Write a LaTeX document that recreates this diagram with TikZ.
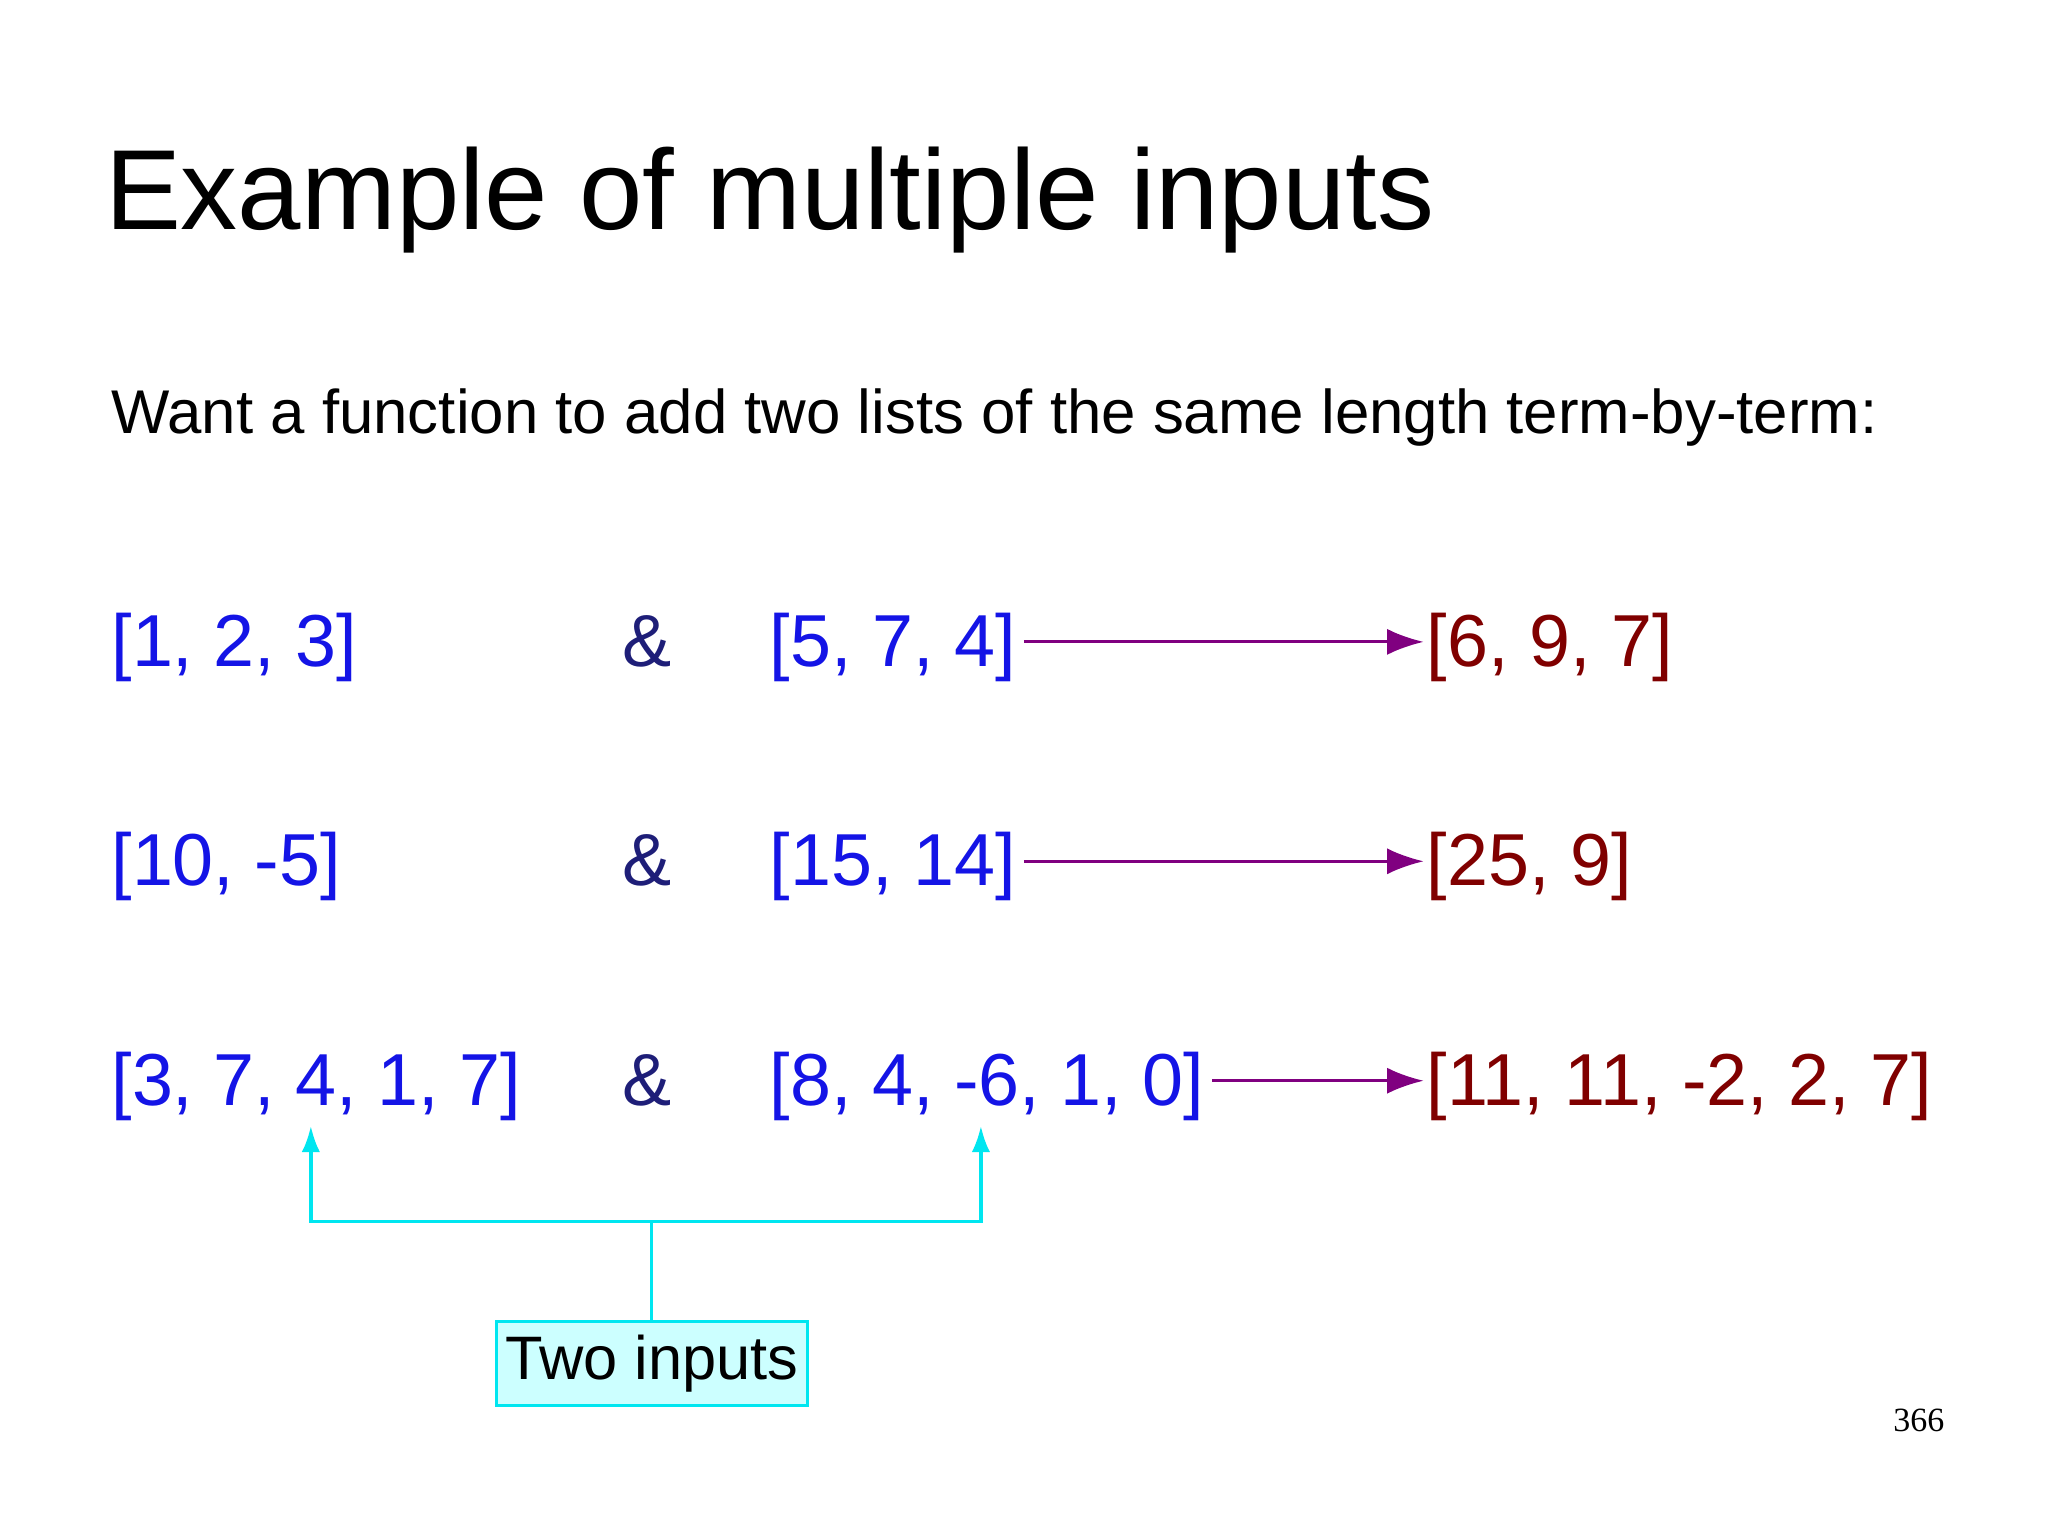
\documentclass[tikz,border=0pt]{standalone}
\usepackage{fontspec}
\setmainfont{Liberation Sans}
\newfontfamily\seriffont{Liberation Serif}
\usetikzlibrary{arrows.meta}
\definecolor{lblue}{RGB}{20,20,230}
\definecolor{amp}{RGB}{30,30,120}
\definecolor{dred}{RGB}{128,0,0}
\definecolor{purp}{RGB}{128,0,128}
\definecolor{cy}{RGB}{0,230,240}
\definecolor{cyfill}{RGB}{204,255,255}
\tikzset{
 lst/.style={anchor=base west,inner sep=0pt,text=lblue,font=\fontsize{28.2}{34}\selectfont},
 res/.style={lst,text=dred},
 andn/.style={lst,text=amp},
 parr/.style={draw=purp,line width=1.2pt,-{Latex[length=14pt,width=10pt]}},
 carr/.style={draw=cy,line width=1.3pt,-{Latex[length=10pt,width=7pt]}},
}
\begin{document}
\begin{tikzpicture}[x=0.5pt,y=-0.5pt]
\useasboundingbox (0,0) rectangle (1568,1175);
\node[anchor=base west,inner sep=0pt,font=\fontsize{43.6}{52}\selectfont] (title) at (80,176) {Example of multiple inputs};
\node[anchor=base west,inner sep=0pt,font=\fontsize{23.65}{28}\selectfont] (sub) at (85,332) {Want a function to add two lists of the same length term-by-term:};
\foreach \i/\y/\a/\b/\c in {1/510/{[1, 2, 3]}/{[5, 7, 4]}/{[6, 9, 7]},2/678/{[10, -5]}/{[15, 14]}/{[25, 9]},3/846/{[3, 7, 4, 1, 7]}/{[8, 4, -6, 1, 0]}/{[11, 11, -2, 2, 7]}}{
 \node[lst] (a\i) at (85,\y) {\a};
 \node[andn] (m\i) at (476,\y) {\&};
 \node[lst] (b\i) at (589,\y) {\b};
 \node[res] (c\i) at (1092,\y) {\c};
 \draw[parr] ([xshift=3pt,yshift=2pt]b\i.east) -- ([xshift=-1pt,yshift=2pt]c\i.west);
}
\node[draw=cy,line width=1.2pt,fill=cyfill,minimum width=119pt,minimum height=32pt,inner sep=0pt,font=\fontsize{23.5}{28}\selectfont] (two) at (499,1044) {Two inputs};
\coordinate (j) at (499,935);
\coordinate (t1) at (238,862);
\coordinate (t2) at (751,862);
\draw[carr] (two.north) -- (j) -| (t1);
\draw[carr] (j) -| (t2);
\node[anchor=base east,inner sep=0pt,font=\seriffont\fontsize{13}{15}\selectfont] (pg) at (1489,1096) {366};
\end{tikzpicture}
\end{document}
